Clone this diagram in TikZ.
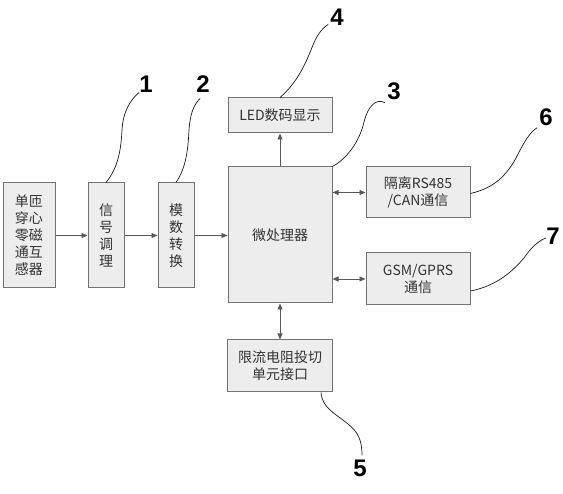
\documentclass[tikz,border=0pt]{standalone}
\usepackage{fontspec}
\setmainfont{Noto Sans CJK SC}
\newfontfamily\numfont{Liberation Sans}
\usepackage{tikz}
\usetikzlibrary{arrows.meta,calc,positioning}

\begin{document}
\begin{tikzpicture}[x=1pt,y=-1pt,>={Triangle[length=6pt,width=5pt]},
  box/.style={draw=black!55,fill=black!7,line width=1pt,align=center,
    text=black!80,font=\fontsize{14}{17}\selectfont,inner sep=1pt},
  link/.style={draw=black!65,line width=0.8pt},
  lead/.style={draw=black!90,line width=0.7pt},
  num/.style={font=\numfont\bfseries\fontsize{24}{24}\selectfont,inner sep=0pt}]
\useasboundingbox (0,0) rectangle (563,494);
% blocks
\node[box,minimum width=52pt,minimum height=105pt] (sensor) at (29,235.5) {单匝\\穿心\\零磁\\通互\\感器};
\node[box,minimum width=36pt,minimum height=105pt] (cond) at (106,235.5) {信\\号\\调\\理};
\node[box,minimum width=36pt,minimum height=105pt] (adc) at (176,235.5) {模\\数\\转\\换};
\node[box,minimum width=104pt,minimum height=136pt] (mcu) at (280,235) {微处理器};
\node[box,minimum width=104pt,minimum height=35pt] (led) at (280,115.5) {LED数码显示};
\node[box,minimum width=104pt,minimum height=51pt] (rs) at (418,192.5) {隔离RS485\\/CAN通信};
\node[box,minimum width=104pt,minimum height=52pt] (gsm) at (418,279) {GSM/GPRS\\通信};
\node[box,minimum width=105pt,minimum height=52pt] (lim) at (280,366) {限流电阻投切\\单元接口};
% signal path
\draw[link,->] (sensor) -- (cond);
\draw[link,->] (cond) -- (adc);
\draw[link,->] (adc) -- (mcu.west |- adc);
\draw[link,->] (mcu) -- (led);
\draw[link,<->] (mcu.east |- rs) -- (rs);
\draw[link,<->] (mcu.east |- gsm) -- (gsm);
\draw[link,<->] (mcu) -- (lim);
% reference numbers
\node[num] (n1) at (146,84) {1};
\node[num] (n2) at (203,84) {2};
\node[num] (n3) at (394,91) {3};
\node[num] (n4) at (337,17) {4};
\node[num] (n5) at (360,468) {5};
\node[num] (n6) at (546,117) {6};
\node[num] (n7) at (553,236) {7};
\draw[lead] (cond.north) .. controls (118,168) and (121,150) .. (122,130)
  .. controls (123,112) and (130,100) .. (n1.south west);
\draw[lead] (adc.north) .. controls (186,168) and (188,150) .. (189,130)
  .. controls (190,114) and (194,104) .. ($(n2.south west)+(4,6)$);
\draw[lead] (mcu.north east) .. controls (348,158) and (360,140) .. (364,122)
  .. controls (368,106) and (376,98) .. ($(n3.south west)+(-2,3)$);
\draw[lead] (led.north) .. controls (298,82) and (306,62) .. (311,50)
  .. controls (316,37) and (320,30) .. ($(n4.south west)+(-2,-1)$);
\draw[lead] (lim.south east) ++(-12,0) .. controls (322,408) and (336,414) .. (348,424)
  .. controls (358,432) and (362,440) .. ($(n5.north)+(2,-4)$);
\draw[lead] (rs.east) ++(0,1) .. controls (494,188) and (506,176) .. (516,158)
  .. controls (524,142) and (530,132) .. ($(n6.south west)+(-2,2)$);
\draw[lead] (gsm.east) ++(0,12) .. controls (496,286) and (512,272) .. (524,258)
  .. controls (532,246) and (540,240) .. ($(n7.west)+(0,2)$);
\end{tikzpicture}
\end{document}
